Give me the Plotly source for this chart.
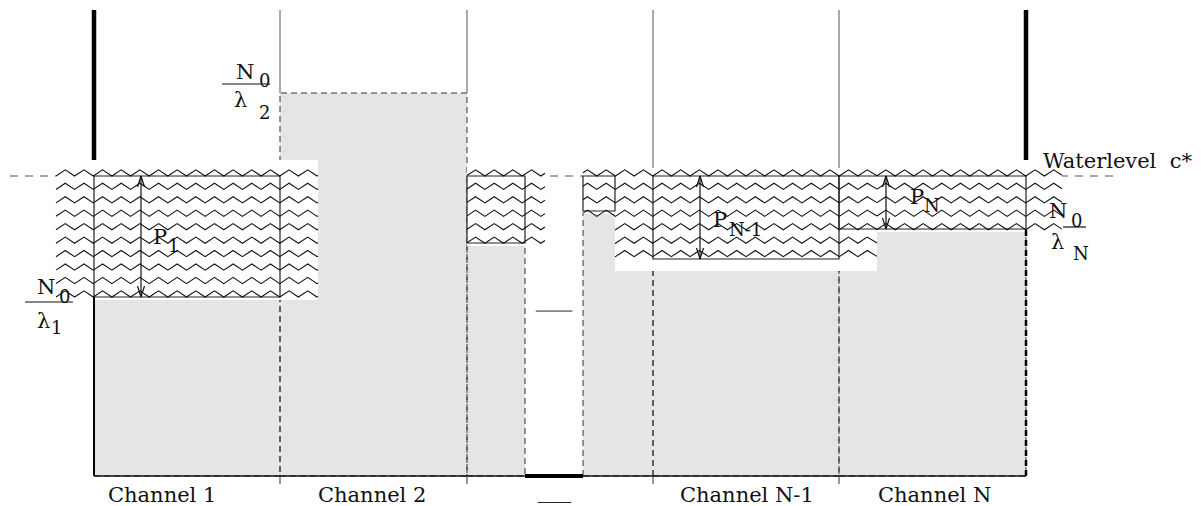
import math
import plotly.graph_objects as go

# ---------------- data (x: horizontal units, y: power level units, bottom = 0) ----------------
channel_edges = [94, 280, 467, 653, 839, 1026]
block_x0 = [94, 280, 467, 583, 653, 839]          # gray noise blocks N0/lambda_i
block_x1 = [280, 467, 525, 653, 839, 1026]
noise_level = [179, 383, 233, 263, 217, 247]
water_level = 300                                  # c*
wall_top = 466
wall_thick_bottom = 316

alloc_x0 = [94, 467, 583, 653, 839]                # allocated power boxes P_i
alloc_x1 = [280, 525, 615, 839, 1026]
alloc_floor = [179, 233, 265, 217, 247]

arrow_x = [141, 700, 886]
arrow_floor = [179, 217, 247]

patch_x0 = [56, 467, 583, 615, 877]                # water texture patches
patch_x1 = [318, 545, 615, 877, 1062]
patch_top = [316, 312, 312, 312, 312]
patch_bottom = [176, 230, 262, 205, 244]
patch_rows = [10, 6, 4, 7, 5]

channel_labels = ["Channel 1", "Channel 2", "Channel N-1", "Channel N"]
channel_label_x = [162, 372, 747, 934]
tick_x = [280, 467, 653, 839]

# ---------------- styling ----------------
GRAY = "#e5e5e5"
FONT = "DejaVu Serif"
period = 18.65
amp = 6.2
row_step = 13.45
PAGE_MARGIN = 8   # default body margin of the html page

fig = go.Figure()

def line(x0, y0, x1, y1, color="#000", width=1, dash="solid", layer="below"):
    fig.add_shape(type="line", x0=x0, y0=y0, x1=x1, y1=y1, xref="x", yref="y",
                  line=dict(color=color, width=width, dash=dash), layer=layer)

def rect(x0, y0, x1, y1, fill=None, color=None, width=0, dash="solid", layer="below"):
    fig.add_shape(type="rect", x0=x0, y0=y0, x1=x1, y1=y1, xref="x", yref="y",
                  fillcolor=fill if fill else "rgba(0,0,0,0)",
                  line=dict(color=color if color else "rgba(0,0,0,0)", width=width, dash=dash),
                  layer=layer)

# water level dashed line (visible only outside blocks / patches)
line(10, water_level, 1120, water_level, color="#555", width=1, dash="8px,7px")

# gray noise blocks
for x0, x1, h in zip(block_x0, block_x1, noise_level):
    rect(x0, 0, x1, h, fill=GRAY)
for x0, x1, h in zip(block_x0, block_x1, noise_level):
    rect(x0, 0, x1, h, color="#333", width=1, dash="6px,4px")

# white water patches
for x0, x1, t, b in zip(patch_x0, patch_x1, patch_top, patch_bottom):
    rect(x0, b, x1, t, fill="white")

# container walls
line(channel_edges[0], wall_thick_bottom, channel_edges[0], wall_top, width=4.5)
line(channel_edges[-1], wall_thick_bottom, channel_edges[-1], wall_top, width=4.5)
line(channel_edges[0], 0, channel_edges[0], noise_level[0], width=2)
line(channel_edges[-1], 0, channel_edges[-1], noise_level[-1], width=2.5, dash="6px,4px")
# thin channel separators above water
line(channel_edges[1], noise_level[1], channel_edges[1], wall_top, color="#555", width=1)
line(channel_edges[2], noise_level[1], channel_edges[2], wall_top, color="#555", width=1)
for xe in channel_edges[3:5]:
    line(xe, water_level + 8, xe, wall_top, color="#555", width=1)

# bottom line, ticks
line(channel_edges[0], 0, channel_edges[-1], 0, color="#111", width=1.5)
line(block_x1[2], 0, block_x0[3], 0, color="#000", width=4)
for tx in tick_x:
    line(tx, 0, tx, -8, color="#333", width=1)

# allocated power boxes
for x0, x1, f in zip(alloc_x0, alloc_x1, alloc_floor):
    rect(x0, f, x1, water_level, color="#222", width=1.2)

# zigzag water texture (global phase so neighbouring patches join up)
half = period / 2
def wave(x):
    u = (x / half) % 2.0
    return amp * (u if u <= 1 else 2 - u)

zx, zy = [], []
for x0, x1, n in zip(patch_x0, patch_x1, patch_rows):
    for k in range(n):
        yb = water_level - k * row_step
        pts = [x0] + [j * half for j in range(math.floor(x0 / half) + 1, math.ceil(x1 / half))] + [x1]
        for x in pts:
            zx.append(x)
            zy.append(yb + wave(x))
        zx.append(None)
        zy.append(None)
fig.add_trace(go.Scatter(x=zx, y=zy, mode="lines", line=dict(color="#111", width=1.1),
                         hoverinfo="skip", showlegend=False))

# double arrows P_i
ax, ay = [], []
for x, f in zip(arrow_x, arrow_floor):
    ax += [x, x, None]
    ay += [water_level, f, None]
    ax += [x - 3.5, x, x + 3.5, None, x - 3.5, x, x + 3.5, None]
    ay += [water_level - 11, water_level, water_level - 11, None, f + 11, f, f + 11, None]
fig.add_trace(go.Scatter(x=ax, y=ay, mode="lines", line=dict(color="#111", width=1.2),
                         hoverinfo="skip", showlegend=False))

# ---------------- text ----------------
def txt(x, y, s, size=21, color="#111", family=FONT, xanchor="center"):
    fig.add_annotation(x=x, y=y, xref="x", yref="y", text=s, showarrow=False,
                       xanchor=xanchor, yanchor="middle",
                       font=dict(family=family, size=size, color=color))

for lab, lx in zip(channel_labels, channel_label_x):
    txt(lx, -19, lab, size=21)
txt(554, -16, "___", size=22, family="Liberation Serif", color="#222")
txt(554, 168, "—", size=36, family="Liberation Serif", color="#888")

txt(1194, 315, "Waterlevel  c*", size=21, xanchor="right")

# N0 / lambda_1
txt(46, 189, "N", size=21); txt(64, 180, "0", size=18)
line(25, 174, 73, 174, color="#111", width=1.2, layer="above")
txt(43, 155, "λ", size=21); txt(56, 149, "1", size=18)
# N0 / lambda_2
txt(245, 404, "N", size=21); txt(264, 396, "0", size=18)
line(222, 392, 270, 392, color="#111", width=1.2, layer="above")
txt(240, 376, "λ", size=21); txt(264, 364, "2", size=18)
# N0 / lambda_N
txt(1058, 265, "N", size=21); txt(1076, 256, "0", size=18)
line(1063, 249, 1086, 249, color="#111", width=1.2, layer="above")
txt(1057, 234, "λ", size=21); txt(1081, 223, "N", size=18)

# power labels
txt(160, 239, "P", size=21); txt(173, 231, "1", size=18)
txt(720, 256, "P", size=21); txt(745, 247, "N-1", size=18)
txt(917, 279, "P", size=21); txt(932, 271, "N", size=18)

W, H = 1201, 506
fig.update_layout(
    width=W - PAGE_MARGIN, height=H - PAGE_MARGIN,
    margin=dict(l=0, r=0, t=0, b=0),
    paper_bgcolor="white", plot_bgcolor="white",
    xaxis=dict(range=[PAGE_MARGIN, W], visible=False, fixedrange=True),
    yaxis=dict(range=[-30, 476 - PAGE_MARGIN], visible=False, fixedrange=True),
    showlegend=False,
)

fig.write_html("out.html")
